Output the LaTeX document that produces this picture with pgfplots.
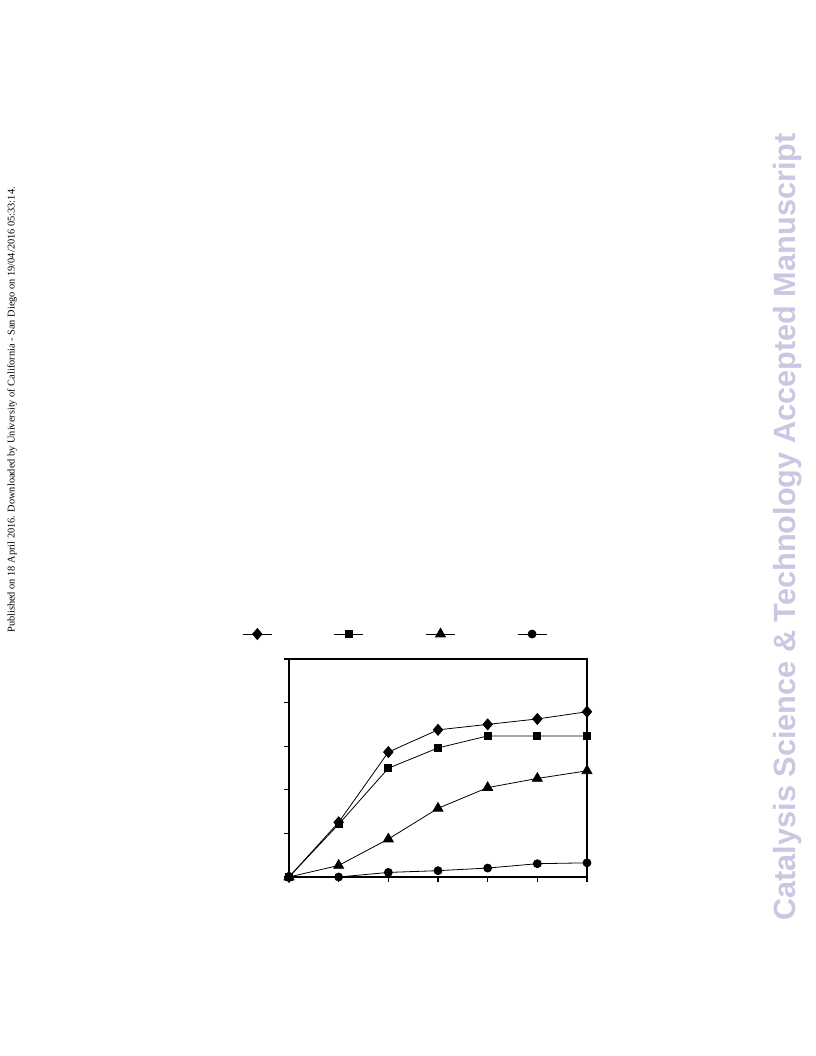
\documentclass[border=0pt]{standalone}
\usepackage{pgfplots}
\pgfplotsset{compat=1.18}
\usepackage{fontspec}
\setmainfont{Liberation Serif}
\newfontfamily\headsans{Liberation Sans}
\definecolor{wmark}{RGB}{200,200,226}

\pgfplotstableread{
t  diam  sq    tri   circ
0  0.0   0.0   0.0   0.0
1  25.1  24.2  5.3   0.0
2  57.3  49.9  17.4  2.1
3  67.5  59.2  31.5  2.9
4  70.0  64.7  41.0  4.1
5  72.5  64.7  45.2  6.1
6  75.8  64.7  48.7  6.5
}\curves

\begin{document}
\begin{tikzpicture}
% page frame (8.5 x 11 in)
\path[use as bounding box] (0,0) rectangle (612bp,792bp);

\node[rotate=90, font=\fontsize{7.8}{9}\selectfont, inner sep=0pt] at (9bp,484.5bp)
  {Published on 18 April 2016. Downloaded by University of California - San Diego on 19/04/2016 05:33:14.};
\node[rotate=90, font=\headsans\bfseries\fontsize{23.1}{27}\selectfont, text=wmark, inner sep=0pt] at (591bp,396.75bp)
  {Catalysis Science \& Technology Accepted Manuscript};

\begin{axis}[
  at={(216.75bp,134.25bp)}, anchor=south west,
  width=223.5bp, height=163.5bp, scale only axis,
  xmin=0, xmax=6, ymin=0, ymax=100,
  xtick={0,1,...,6}, ytick={0,20,...,100},
  xticklabels={}, yticklabels={},
  tick align=outside, tick pos=left, major tick length=3.5bp,
  axis line style={line width=0.8bp},
  every tick/.style={black, line width=0.8bp},
  clip=false,
  legend columns=4,
  legend style={at={(0.357,1.115)}, anchor=center, draw=none, fill=none,
    inner sep=0pt, nodes={inner sep=0pt},
    /tikz/every even column/.append style={column sep=45.3bp}},
  legend image code/.code={\draw[mark repeat=2,mark phase=2]
    plot coordinates {(0bp,0bp)(10.9bp,0bp)(21.8bp,0bp)};},
  every axis plot/.append style={black, line width=0.6bp},
]
\addplot[mark=diamond*, mark size=4.1bp, mark options={xscale=1.15}] table[x=t,y=diam] {\curves};
\addlegendentry{\null}
\addplot[mark=square*, mark size=2.6bp] table[x=t,y=sq] {\curves};
\addlegendentry{\null}
\addplot[mark=triangle*, mark size=4.3bp] table[x=t,y=tri] {\curves};
\addlegendentry{\null}
\addplot[mark=*, mark size=3bp] table[x=t,y=circ] {\curves};
\addlegendentry{\null}
\end{axis}
\end{tikzpicture}
\end{document}
